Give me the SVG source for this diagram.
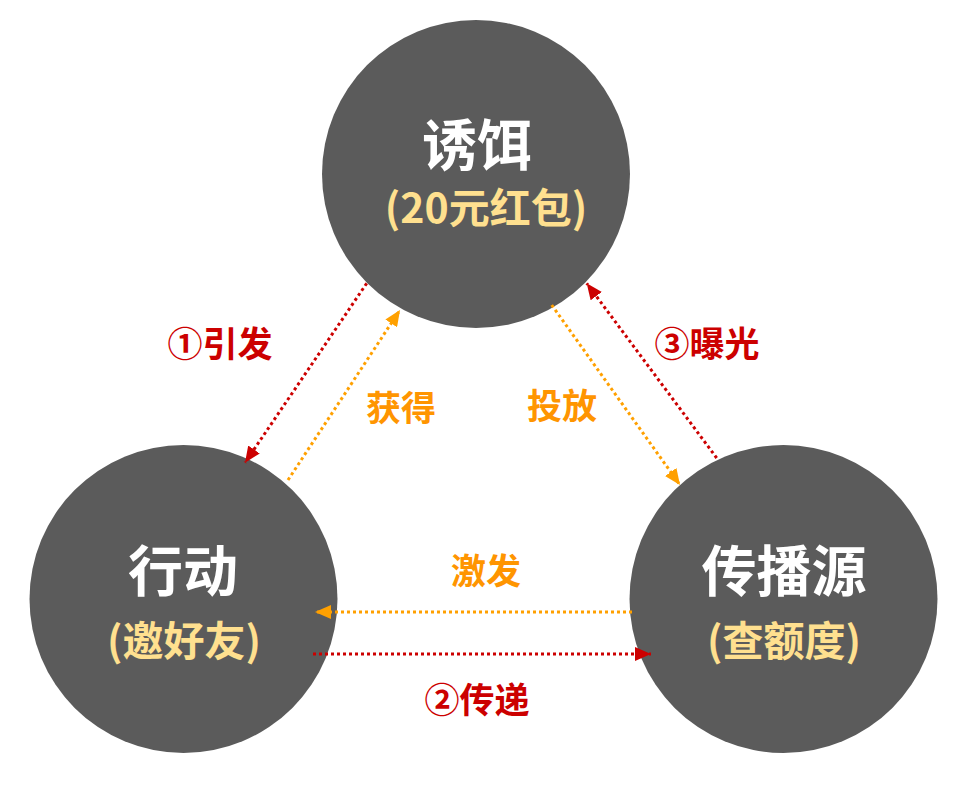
<svg xmlns="http://www.w3.org/2000/svg" width="967" height="804" viewBox="0 0 967 804">
<style>
.node{fill:#5B5B5B}
text{font-family:"Noto Sans CJK SC","Microsoft YaHei",sans-serif;font-weight:bold;text-anchor:middle;dominant-baseline:central}
.title{fill:#FFFFFF;font-size:55px}
.sub{fill:#FFE08F;font-size:41px}
.lr{fill:#CC0000;font-size:35px}
.lo{fill:#FF9500;font-size:35px}
.cr{stroke:#CC0000;stroke-width:3;stroke-dasharray:3 3;fill:none}
.co{stroke:#FFA000;stroke-width:3;stroke-dasharray:3 3;fill:none}
</style>
<defs>
<marker id="ar" markerUnits="userSpaceOnUse" markerWidth="16" markerHeight="14" refX="16" refY="7" orient="auto"><path d="M0,0 L16,7 L0,14 Z" fill="#CC0000"/></marker>
<marker id="ao" markerUnits="userSpaceOnUse" markerWidth="16" markerHeight="14" refX="16" refY="7" orient="auto"><path d="M0,0 L16,7 L0,14 Z" fill="#FFA000"/></marker>
</defs>
<rect width="967" height="804" fill="#FFFFFF"/>
<g id="node-bait">
<circle class="node" cx="476" cy="174" r="154"/>
<text class="title" x="477" y="141">诱饵</text>
<text class="sub" x="486" y="205">(20元红包)</text>
</g>
<g id="node-action">
<circle class="node" cx="183.5" cy="599" r="154"/>
<text class="title" x="183" y="567">行动</text>
<text class="sub" x="184" y="638">(邀好友)</text>
</g>
<g id="node-source">
<circle class="node" cx="783.5" cy="599" r="154"/>
<text class="title" x="784" y="567">传播源</text>
<text class="sub" x="784" y="638">(查额度)</text>
</g>
<g id="connectors">
<line class="cr" x1="366.7" y1="283.3" x2="245" y2="462.7" marker-end="url(#ar)"/>
<line class="co" x1="288" y1="480" x2="400" y2="310" marker-end="url(#ao)"/>
<line class="co" x1="551.7" y1="305" x2="680" y2="485" marker-end="url(#ao)"/>
<line class="cr" x1="716.7" y1="458" x2="586.7" y2="283.3" marker-end="url(#ar)"/>
<line class="co" x1="632" y1="612" x2="315" y2="612" marker-end="url(#ao)"/>
<line class="cr" x1="313" y1="654" x2="651" y2="654" marker-end="url(#ar)"/>
</g>
<g id="labels">
<text class="lr" x="220" y="341">①引发</text>
<text class="lo" x="401" y="405">获得</text>
<text class="lo" x="562" y="403">投放</text>
<text class="lr" x="707" y="341">③曝光</text>
<text class="lo" x="486" y="568">激发</text>
<text class="lr" x="477" y="697">②传递</text>
</g>
</svg>
